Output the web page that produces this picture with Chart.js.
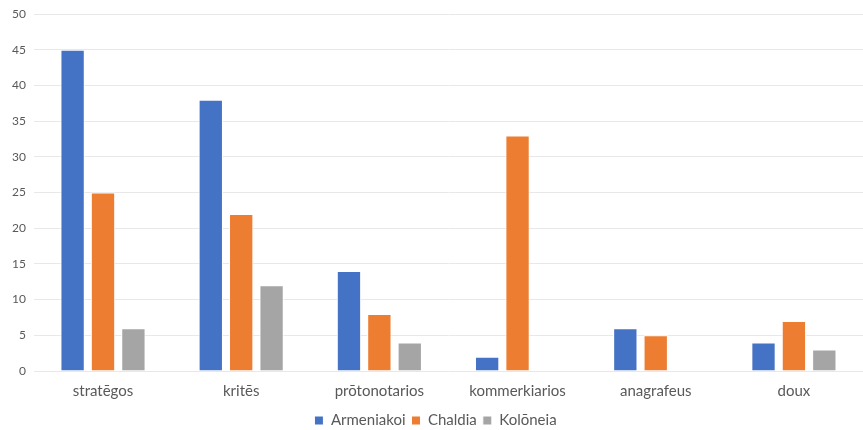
<!DOCTYPE html>
<html>
<head>
<meta charset="utf-8">
<script src="https://cdn.jsdelivr.net/npm/chart.js@4"></script>
<style>
html,body{margin:0;padding:0;background:#fff;}
#wrap{width:863px;height:430px;position:relative;}
</style>
</head>
<body>
<div id="wrap"><canvas id="c"></canvas></div>
<script>
const categories = ["stratēgos", "kritēs", "prōtonotarios", "kommerkiarios", "anagrafeus", "doux"];
const seriesNames = ["Armeniakoi", "Chaldia", "Kolōneia"];
const armeniakoi = [45, 38, 14, 2, 6, 4];
const chaldia = [25, 22, 8, 33, 5, 7];
const koloneia = [6, 12, 4, 0, 0, 3];
const yTicks = [0, 5, 10, 15, 20, 25, 30, 35, 40, 45, 50];

const colors = ["#4472C4", "#ED7D31", "#A5A5A5"];
const values = [armeniakoi, chaldia, koloneia];
const FONT = "Lato, 'Noto Sans', sans-serif";

new Chart(document.getElementById('c'), {
  type: 'bar',
  data: {
    labels: categories,
    datasets: seriesNames.map((n, i) => ({
      label: n,
      data: values[i],
      backgroundColor: colors[i],
      borderColor: '#ffffff',
      borderWidth: 1,
      categoryPercentage: 0.66,
      barPercentage: 0.8
    }))
  },
  options: {
    responsive: true,
    maintainAspectRatio: false,
    animation: false,
    layout: { padding: { left: 4, right: -4, top: 0, bottom: -8 } },
    scales: {
      x: {
        grid: { display: false },
        border: { display: false },
        ticks: { color: '#595959', font: { family: FONT, size: 15 }, padding: 3 },
        afterFit: (axis) => { axis.height += 4; }
      },
      y: {
        min: 0, max: 50,
        afterBuildTicks: (ax) => { ax.ticks = yTicks.map(v => ({ value: v })); },
        grid: { color: '#E8E8E8', drawTicks: false },
        border: { display: false },
        ticks: { color: '#595959', font: { family: FONT, size: 12, lineHeight: 1 }, padding: 8 }
      }
    },
    plugins: {
      legend: {
        position: 'bottom',
        labels: { color: '#595959', font: { family: FONT, size: 15 }, boxWidth: 9, boxHeight: 9, padding: 6 }
      },
      tooltip: { enabled: false }
    }
  }
});
</script>
</body>
</html>
